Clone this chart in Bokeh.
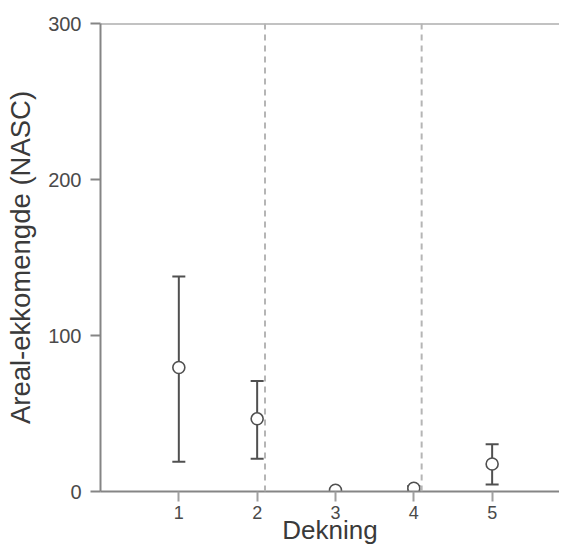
from bokeh.plotting import figure
from bokeh.models import ColumnDataSource, Range1d, Span, Whisker, TeeHead, FixedTicker
from bokeh.embed import file_html
from bokeh.resources import INLINE

# Data
dekning = [1, 2, 3, 4, 5]
nasc_mean = [79.5, 46.6, 0.8, 2.1, 17.6]
nasc_lower = [19.1, 21.0, None, 0.6, 4.5]
nasc_upper = [137.8, 70.8, None, 3.6, 30.3]
dividers = [2.1, 4.1]
y_ticks = [0, 100, 200, 300]
x_ticks = [1, 2, 3, 4, 5]
x_title = "Dekning"
y_title = "Areal-ekkomengde (NASC)"

FONT = "Liberation Sans"
AXIS_GRAY = "#858585"
MARK = "#505050"
TEXT = "#4a4a4a"

p = figure(width=559, height=548, output_backend="svg", toolbar_location=None,
           x_range=Range1d(0, 5.86), y_range=Range1d(0, 300),
           min_border_left=100, min_border_right=0, min_border_top=23,
           min_border_bottom=57)
p.outline_line_color = None
p.grid.visible = False
p.background_fill_color = "white"
p.border_fill_color = "white"

# axes
p.yaxis.ticker = FixedTicker(ticks=y_ticks)
p.xaxis.ticker = FixedTicker(ticks=x_ticks)
for ax in (p.xaxis[0], p.yaxis[0]):
    ax.minor_tick_line_color = None
    ax.major_tick_in = 0
    ax.major_tick_out = 10
    ax.axis_line_width = 2
    ax.major_label_text_font = FONT
    ax.major_label_text_color = TEXT
    ax.axis_label_text_font = FONT
    ax.axis_label_text_font_style = "normal"
    ax.axis_label_text_color = "#3a3a3a"
p.yaxis.major_label_text_font_size = "20px"
p.xaxis.major_label_text_font_size = "18px"
p.yaxis.axis_label_text_font_size = "27.5px"
p.xaxis.axis_label_text_font_size = "26px"
p.yaxis.axis_line_color = AXIS_GRAY
p.yaxis.major_tick_line_color = AXIS_GRAY
p.yaxis.major_tick_line_width = 2
p.xaxis.axis_line_color = AXIS_GRAY
p.xaxis.major_tick_line_color = "#a0a0a0"
p.xaxis.major_tick_line_width = 2
p.yaxis.major_label_standoff = 9
p.xaxis.major_label_standoff = 4
p.yaxis.axis_label = y_title
p.xaxis.axis_label = x_title
p.yaxis.axis_label_standoff = 9
p.xaxis.axis_label_standoff = -7

# top frame line
p.add_layout(Span(location=y_ticks[-1], dimension="width", line_color=AXIS_GRAY, line_width=2))

# dashed dividers
for d in dividers:
    p.add_layout(Span(location=d, dimension="height", line_color="#b5b5b5",
                      line_width=2, line_dash="6 5"))

# error bars
idx = [i for i in range(len(dekning)) if nasc_lower[i] is not None]
err = ColumnDataSource(dict(x=[dekning[i] for i in idx],
                            lo=[nasc_lower[i] for i in idx],
                            hi=[nasc_upper[i] for i in idx]))
w = Whisker(source=err, base="x", lower="lo", upper="hi", dimension="height",
            line_color=MARK, line_width=2,
            upper_head=TeeHead(size=13, line_color=MARK, line_width=2),
            lower_head=TeeHead(size=13, line_color=MARK, line_width=2))
p.add_layout(w)

src = ColumnDataSource(dict(x=dekning, y=nasc_mean))
p.scatter("x", "y", source=src, marker="circle", size=12, fill_color="white",
          line_color=MARK, line_width=1.6)

open("out.html", "w").write(file_html(p, INLINE))
